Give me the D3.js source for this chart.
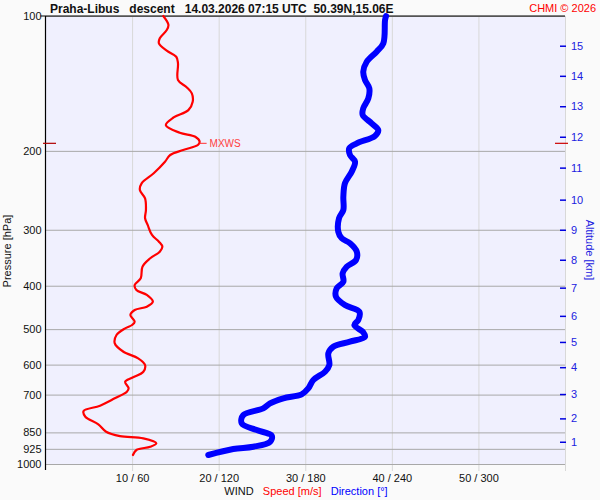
<!DOCTYPE html>
<html><head><meta charset="utf-8">
<script src="https://cdn.jsdelivr.net/npm/d3@7"></script>
<style>
html,body{margin:0;padding:0;background:#fafafa;}
svg{display:block;font-family:Arial,"Liberation Sans",sans-serif;}
</style></head>
<body><svg id="c" width="600" height="500"></svg>
<script>
// ---------- data ----------
const titleText = "Praha-Libus   descent   14.03.2026 07:15 UTC  50.39N,15.06E";
const creditText = "CHMI \u00a9 2026";
const pressureTicks = [100, 200, 300, 400, 500, 600, 700, 850, 925, 1000];
const windTicks = [10, 20, 30, 40, 50];
const windTickLabels = ["10 / 60", "20 / 120", "30 / 180", "40 / 240", "50 / 300"];
const altitudeKm = [1, 2, 3, 4, 5, 6, 7, 8, 9, 10, 11, 12, 13, 14, 15];
const altitudePressure = [892, 791, 698, 608, 534, 467, 404, 350, 300, 257, 218, 186, 159, 136, 116.5];

// wind speed profile (m/s)
const speedPressure = [100, 104.7, 107.5, 112.1, 115.1, 119.5, 123.3, 127.5, 139.0, 144.2, 148.8, 155.4, 162.2, 168.4, 175.2, 182.2, 186.0, 190.8, 194.1, 199.1, 204.3, 211.5, 224.4, 236.3, 244.6, 255.3, 271.0, 282.8, 292.7, 308.2, 319.0, 327.3, 335.8, 347.4, 362.7, 385.0, 398.5, 408.9, 419.5, 434.2, 445.5, 453.2, 465.0, 481.3, 489.5, 497.9, 515.4, 537.9, 561.6, 580.9, 601.2, 622.3, 642.0, 655.3, 677.8, 689.8, 713.5, 741.3, 761.7, 784.3, 815.6, 847.3, 866.2, 876.5, 899.3, 915.1, 930.6, 954.8];
const speedValues = [13.6, 14.2, 14.0, 13.2, 13.1, 14.0, 15.1, 15.3, 15.3, 16.3, 16.9, 17.0, 16.5, 14.8, 13.9, 15.5, 17.3, 17.8, 17.6, 15.9, 14.4, 13.8, 12.5, 11.1, 10.9, 11.5, 11.6, 11.5, 11.8, 12.3, 13.1, 13.5, 13.2, 12.1, 11.2, 11.0, 10.3, 10.5, 11.7, 12.4, 11.7, 10.3, 9.8, 10.3, 10.0, 9.2, 8.2, 8.0, 9.0, 10.7, 11.5, 11.3, 10.0, 9.2, 9.6, 9.4, 8.0, 6.3, 4.4, 4.6, 6.1, 7.0, 8.6, 11.3, 12.8, 12.1, 10.5, 10.1];

// wind direction profile (deg)
const dirPressure = [100, 102.1, 115.1, 120.1, 126.5, 133.1, 139.0, 145.0, 152.7, 160.7, 166.3, 173.6, 179.7, 185.3, 192.4, 197.4, 204.3, 211.5, 222.6, 236.3, 253.2, 271.0, 282.8, 303.1, 313.5, 321.6, 335.8, 350.5, 362.7, 375.3, 391.9, 405.4, 423.3, 441.7, 457.1, 476.9, 489.5, 508.2, 519.8, 533.3, 547.2, 566.1, 601.2, 622.3, 649.4, 677.8, 699.2, 713.5, 732.1, 751.2, 777.4, 811.4, 840.0, 864.8, 892.0, 915.1, 925.8, 954.8];
const dirValues = [236.0, 235.3, 234.1, 229.5, 222.6, 220.2, 221.4, 224.4, 223.7, 220.2, 219.8, 226.0, 230.6, 228.3, 215.7, 210.5, 211.0, 214.5, 212.2, 207.5, 206.4, 206.4, 203.4, 202.9, 205.3, 211.0, 215.7, 215.2, 208.7, 205.9, 206.4, 201.8, 201.3, 207.5, 217.5, 216.8, 214.0, 220.2, 221.4, 211.0, 199.4, 196.0, 196.7, 193.7, 185.6, 182.1, 177.5, 164.8, 155.6, 150.9, 137.1, 136.0, 146.4, 156.8, 155.6, 144.0, 130.1, 112.8];

const markerPressure = 192.4; // level marked by the red dashes and MXWS

// ---------- drawing ----------
const svg = d3.select("#c");
const L = 45.5, R = 565, T = 16, B = 464;
const x = d3.scaleLinear().domain([0, 60]).range([L, R]);
const xd = d3.scaleLinear().domain([0, 360]).range([L, R]);
const y = d3.scaleLog().domain([100, 1000]).range([T, B]);

svg.append("rect").attr("width", 600).attr("height", 500).attr("fill", "#fafafa");
svg.append("rect").attr("x", L).attr("y", T).attr("width", R - L).attr("height", B - T).attr("fill", "#f0f0fe");

// vertical grid + bottom labels
const xAxis = svg.append("g").attr("transform", "translate(0,471)")
  .call(d3.axisBottom(x).tickValues(windTicks.concat([60])).tickSizeInner(-(471 - T)).tickSizeOuter(0).tickPadding(3)
    .tickFormat((d) => { const i = windTicks.indexOf(d); return i >= 0 ? windTickLabels[i] : ""; }));
xAxis.select(".domain").remove();
xAxis.selectAll(".tick line").attr("stroke", "#d8d8d8").attr("stroke-width", 1);
xAxis.selectAll("text").attr("font-size", 11).attr("fill", "#111").attr("font-family", "Arial, 'Liberation Sans', sans-serif");

// horizontal grid + left labels
const yAxis = svg.append("g").attr("transform", `translate(${L},0)`)
  .call(d3.axisLeft(y).tickValues(pressureTicks).tickSizeInner(-(R - L)).tickSizeOuter(0).tickPadding(4).tickFormat(d3.format("d")));
yAxis.select(".domain").remove();
yAxis.selectAll(".tick line").attr("stroke", "#a8a8a8").attr("stroke-width", 1);
yAxis.selectAll("text").attr("font-size", 11).attr("fill", "#111").attr("font-family", "Arial, 'Liberation Sans', sans-serif");

// frame lines
svg.append("line").attr("x1", L).attr("x2", L).attr("y1", T).attr("y2", 470).attr("stroke", "#000").attr("stroke-width", 1.2);
svg.append("line").attr("x1", L - 5).attr("x2", R).attr("y1", T).attr("y2", T).attr("stroke", "#000").attr("stroke-width", 1.2);

// right altitude axis
const aAxis = svg.append("g").attr("transform", "translate(560,0)")
  .call(d3.axisRight(y).tickValues(altitudePressure).tickSizeInner(6).tickSizeOuter(0).tickPadding(5)
    .tickFormat((d) => altitudeKm[altitudePressure.indexOf(d)]));
aAxis.select(".domain").remove();
aAxis.selectAll(".tick line").attr("stroke", "#0000e0").attr("stroke-width", 1.5);
aAxis.selectAll("text").attr("font-size", 11).attr("fill", "#2020e0").attr("font-family", "Arial, 'Liberation Sans', sans-serif");

// marker dashes
const my = y(markerPressure);
svg.append("line").attr("x1", 43).attr("x2", 56).attr("y1", my).attr("y2", my).attr("stroke", "#b00000").attr("stroke-width", 1.2);
svg.append("line").attr("x1", 555).attr("x2", 568).attr("y1", my).attr("y2", my).attr("stroke", "#cc0000").attr("stroke-width", 1.2);

// direction line
const dirData = dirPressure.map((p, i) => [dirValues[i], p]);
svg.append("path").datum(dirData)
  .attr("d", d3.line().x((d) => xd(d[0])).y((d) => y(d[1])).curve(d3.curveCatmullRom.alpha(0.5)))
  .attr("fill", "none").attr("stroke", "#0000ff").attr("stroke-width", 6)
  .attr("stroke-linejoin", "round").attr("stroke-linecap", "round");

// speed line
const spData = speedPressure.map((p, i) => [speedValues[i], p]);
svg.append("path").datum(spData)
  .attr("d", d3.line().x((d) => x(d[0])).y((d) => y(d[1])).curve(d3.curveCatmullRom.alpha(0.5)))
  .attr("fill", "none").attr("stroke", "#ff0000").attr("stroke-width", 2.2)
  .attr("stroke-linejoin", "round").attr("stroke-linecap", "round");

// MXWS
const maxI = speedValues.indexOf(d3.max(speedValues));
const mx = x(speedValues[maxI]);
svg.append("line").attr("x1", mx).attr("x2", mx + 7).attr("y1", my).attr("y2", my).attr("stroke", "#ff3030").attr("stroke-width", 1);
svg.append("text").attr("x", mx + 10).attr("y", my + 4).attr("font-size", 10).attr("fill", "#ff4040").text("MXWS");

// titles
svg.append("text").attr("x", 50).attr("y", 12.5).attr("font-size", 12).attr("font-weight", "bold").attr("fill", "#111")
  .style("white-space", "pre").text(titleText);
svg.append("text").attr("x", 596).attr("y", 12).attr("text-anchor", "end").attr("font-size", 11).attr("fill", "#ff0000").text(creditText);

// axis titles
svg.append("text").attr("transform", "translate(11,251) rotate(-90)").attr("text-anchor", "middle")
  .attr("font-size", 11).attr("fill", "#111").text("Pressure [hPa]");
svg.append("text").attr("transform", "translate(586,250) rotate(90)").attr("text-anchor", "middle")
  .attr("font-size", 11).attr("fill", "#2020e0").text("Altitude [km]");

// bottom legend
const leg = svg.append("text").attr("x", 306).attr("y", 495).attr("text-anchor", "middle").attr("font-size", 11).style("white-space", "pre");
leg.append("tspan").attr("fill", "#111").text("WIND   ");
leg.append("tspan").attr("fill", "#ff0000").text("Speed [m/s]   ");
leg.append("tspan").attr("fill", "#0000ff").text("Direction [\u00b0]");
</script></body></html>
